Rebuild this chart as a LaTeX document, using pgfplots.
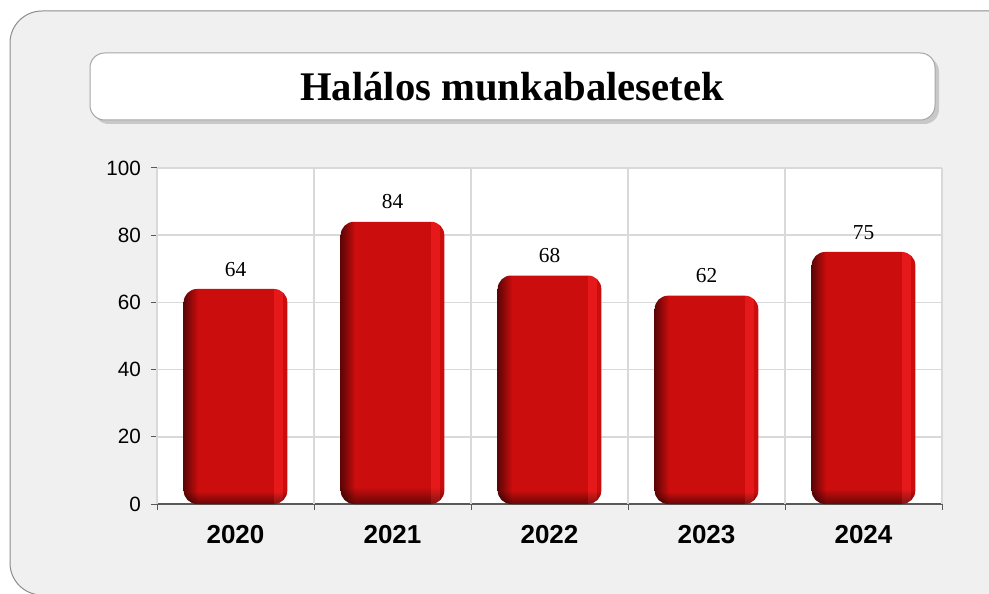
\documentclass[border=0pt]{standalone}
\usepackage{pgfplots}
\pgfplotsset{compat=1.18}
\usepackage{fontspec}
\setmainfont{Liberation Sans}
\newfontfamily\serif{Liberation Serif}
\usetikzlibrary{shadows}

\definecolor{bggray}{HTML}{F0F0F0}
\definecolor{framegray}{HTML}{8C8C8C}
\definecolor{gridgray}{HTML}{D9D9D9}
\definecolor{axisgray}{HTML}{595959}

% red bar: darker at the left and bottom rim, light stripe near the right
\pgfdeclarefunctionalshading{barfn}{\pgfpoint{-50bp}{-50bp}}{\pgfpoint{50bp}{50bp}}{}{
  25 add 3 div dup 1 gt {pop 1} if dup 0 lt {pop 0} if 0.5 mul 0.5 add
  exch dup
  25 add 7 div dup 1 gt {pop 1} if dup 0 lt {pop 0} if 0.55 mul 0.45 add
  3 -1 roll mul
  exch dup 18.5 gt exch 22.5 lt and {0.1} {0} ifelse
  exch dup 0.8 mul 2 index add
  exch 0.05 mul 2 index 0.5 mul add
  dup 4 -1 roll pop
}

\pgfplotsset{redbar/.style={draw=none, shading=barfn, rounded corners=10pt, bar shift=0pt}}

\begin{document}
\begin{tikzpicture}
\path[use as bounding box] (0,0) rectangle (741.75pt,444.75pt);
\begin{scope}
  \clip (0,0) rectangle (741.75pt,444.75pt);
  \draw[framegray, fill=bggray, line width=0.75pt, rounded corners=24pt] (7.5pt,-1.5pt) rectangle (770pt,436.5pt);
\end{scope}
\draw[draw=gray!70, fill=white, line width=0.75pt, rounded corners=11pt,
  drop shadow={shadow xshift=3pt, shadow yshift=-3pt, opacity=0.35}] (67.5pt,354.75pt) rectangle (701.25pt,405pt);
\node[font=\serif\bfseries\fontsize{30.5}{34}\selectfont] at (384pt,379.5pt) {Halálos munkabalesetek};

\begin{axis}[
  at={(117.75pt,66.75pt)}, anchor=south west,
  scale only axis, width=588.75pt, height=252pt,
  xmin=-0.5, xmax=4.5, ymin=0, ymax=100,
  axis x line=bottom, axis y line=left,
  axis line style={-, axisgray, line width=1pt},
  xtick={0,1,2,3,4},
  xticklabels={2020,2021,2022,2023,2024},
  xtick style={draw=none},
  x tick label style={font=\bfseries\fontsize{19.5}{22}\selectfont, yshift=-8pt},
  extra x ticks={-0.5,0.5,1.5,2.5,3.5,4.5},
  extra x tick labels={},
  extra x tick style={xmajorgrids=true, xtick style={draw=axisgray, line width=0.75pt}, tick align=outside, major tick length=4.5pt},
  ytick={0,20,...,100},
  ymajorgrids,
  y tick label style={font=\fontsize{15.5}{18}\selectfont, xshift=-4pt},
  ytick style={draw=axisgray, line width=0.75pt},
  tick align=outside, major tick length=4.5pt,
  grid style={gridgray, line width=1.2pt},
  /pgf/number format/assume math mode=true,
  axis background/.style={fill=white},
  ybar, bar width=0.66,
  nodes near coords,
  every node near coord/.append style={font=\serif\fontsize{16}{19}\selectfont, text=black, yshift=6pt},
]
\addplot[redbar] coordinates {(0,64)};
\addplot[redbar] coordinates {(1,84)};
\addplot[redbar] coordinates {(2,68)};
\addplot[redbar] coordinates {(3,62)};
\addplot[redbar] coordinates {(4,75)};
\end{axis}
\end{tikzpicture}
\end{document}
